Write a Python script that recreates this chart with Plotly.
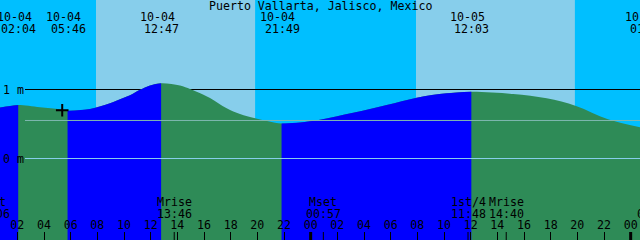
import plotly.graph_objects as go

# ---------------- data ----------------
title = "Puerto Vallarta, Jalisco, Mexico"
view_start = "10-04 00:42"
view_end = "10-06 00:42"
y_range = [-1.181, 2.297]          # metres

# tide curve samples
tide_times = ["10-04 00:42", "10-04 01:27", "10-04 02:04", "10-04 03:42", "10-04 05:12",
              "10-04 05:46", "10-04 07:27", "10-04 08:57", "10-04 09:42", "10-04 10:27",
              "10-04 11:12", "10-04 11:57", "10-04 12:47", "10-04 14:12",
              "10-04 14:57", "10-04 15:27", "10-04 16:27", "10-04 17:42", "10-04 18:42",
              "10-04 19:50",
              "10-04 21:49", "10-04 23:12", "10-05 00:42", "10-05 03:11", "10-05 05:42",
              "10-05 07:57", "10-05 10:12", "10-05 12:03", "10-05 15:11", "10-05 17:42",
              "10-05 19:54", "10-05 22:18", "10-06 00:42"]
tide_m = [0.739, 0.761, 0.775, 0.742, 0.713,
          0.693, 0.717, 0.800, 0.858, 0.915,
          0.995, 1.058, 1.090, 1.058,
          1.008, 0.968, 0.877, 0.728, 0.645,
          0.583,
          0.507, 0.522, 0.562, 0.662, 0.775,
          0.881, 0.945, 0.968, 0.935, 0.872,
          0.761, 0.568, 0.452]

# high / low tide events (labels along the top)
tide_event_dates = ["10-04", "10-04", "10-04", "10-04", "10-05", "10-06"]
tide_event_times = ["02:04", "05:46", "12:47", "21:49", "12:03", "01:13"]

# sun
sunrise = ["10-04 07:54", "10-05 07:54"]
sunset = ["10-04 19:50", "10-05 19:49"]

# moon events (labels along the bottom)
moon_labels = ["Mset", "Mrise", "Mset", "1st/4", "Mrise", "Mset"]
moon_dates = ["10-04", "10-04", "10-05", "10-05", "10-05", "10-06"]
moon_times = ["00:06", "13:46", "00:57", "11:48", "14:40", "01:48"]

# hour ticks
tick_times = ["10-04 02:00", "10-04 04:00", "10-04 06:00", "10-04 08:00", "10-04 10:00",
              "10-04 12:00", "10-04 14:00", "10-04 16:00", "10-04 18:00", "10-04 20:00",
              "10-04 22:00", "10-05 00:00", "10-05 02:00", "10-05 04:00", "10-05 06:00",
              "10-05 08:00", "10-05 10:00", "10-05 12:00", "10-05 14:00", "10-05 16:00",
              "10-05 18:00", "10-05 20:00", "10-05 22:00", "10-06 00:00"]
tick_labels = ["02", "04", "06", "08", "10", "12", "14", "16", "18", "20", "22", "00",
               "02", "04", "06", "08", "10", "12", "14", "16", "18", "20", "22", "00"]
midnights = ["10-05 00:00", "10-06 00:00"]

depth_lines = [1.0]          # black depth line
datum_level = 0.0
mean_level = 0.551
now_time = "10-04 05:22"
now_level = 0.700

# ---------------- helpers ----------------
def hrs(s):
    d, hm = s.split(" ")
    return (int(d[3:]) - 4) * 24 + int(hm[:2]) + int(hm[3:]) / 60.0

x0, x1 = hrs(view_start), hrs(view_end)
X = [hrs(t) for t in tide_times]

RISE = "#0000FF"
FALL = "#2E8B57"
DAY = "#87CEEB"
NIGHT = "#00BFFF"
FONT = dict(family="DejaVu Sans Mono", size=11.6, color="black")

fig = go.Figure()
low = y_range[0] - 1

def area(xs, ys, color):
    fig.add_trace(go.Scatter(x=[xs[0], xs[-1]], y=[low, low], mode="lines",
                             line=dict(width=0), hoverinfo="skip", showlegend=False))
    fig.add_trace(go.Scatter(x=xs, y=ys, mode="lines", fill="tonexty", fillcolor=color,
                             line=dict(width=0, color=color, shape="spline", smoothing=1.0),
                             hoverinfo="skip", showlegend=False))

# falling colour under the whole curve, rising segments on top
area(X, tide_m, FALL)
bounds = [x0] + [hrs(d + " " + t) for d, t in zip(tide_event_dates, tide_event_times)
                 if x0 < hrs(d + " " + t) < x1] + [x1]
for a, b in zip(bounds[:-1], bounds[1:]):
    idx = [i for i, x in enumerate(X) if a - 1e-6 <= x <= b + 1e-6]
    xs = [X[i] for i in idx]
    ys = [tide_m[i] for i in idx]
    if ys[-1] > ys[0]:
        area(xs, ys, RISE)

# now marker
fig.add_trace(go.Scatter(x=[hrs(now_time)], y=[now_level], mode="markers",
                         marker=dict(symbol="cross-thin", size=9,
                                     line=dict(width=2, color="black")),
                         hoverinfo="skip", showlegend=False))

shapes = []
for r, s in zip(sunrise, sunset):
    shapes.append(dict(type="rect", xref="x", yref="paper", x0=hrs(r), x1=hrs(s),
                       y0=0, y1=1, fillcolor=DAY, line=dict(width=0), layer="below"))
for lv in depth_lines:
    shapes.append(dict(type="line", xref="paper", yref="y", x0=25 / 640, x1=1,
                       y0=lv, y1=lv, line=dict(color="black", width=1), layer="below"))
shapes.append(dict(type="line", xref="paper", yref="y", x0=25 / 640, x1=1,
                   y0=mean_level, y1=mean_level, line=dict(color="#7FB8B0", width=1)))
shapes.append(dict(type="line", xref="paper", yref="y", x0=25 / 640, x1=1,
                   y0=datum_level, y1=datum_level, line=dict(color="#87CEEB", width=1)))
for m in midnights:
    shapes.append(dict(type="line", xref="x", yref="paper", x0=hrs(m), x1=hrs(m),
                       y0=0, y1=8 / 240, line=dict(color="black", width=3)))
for d, t in zip(moon_dates, moon_times):
    h = hrs(d + " " + t)
    if x0 < h < x1:
        shapes.append(dict(type="line", xref="x", yref="paper", x0=h, x1=h,
                           y0=0, y1=8 / 240, line=dict(color="black", width=1)))

annotations = [dict(text=title, xref="paper", yref="paper", x=0.5, y=1 - 6 / 240,
                    yanchor="middle", showarrow=False, font=FONT)]

def label(h, ypix, text, shift=0):
    if x0 <= h <= x1:
        ref, xv = "x", h
    else:
        ref, xv = "paper", (h - x0) / (x1 - x0)
    annotations.append(dict(text=text, xref=ref, yref="paper", x=xv, y=1 - ypix / 240,
                            xanchor="center", yanchor="middle", xshift=shift,
                            showarrow=False, font=FONT))

for d, t in zip(tide_event_dates, tide_event_times):
    h = hrs(d + " " + t)
    label(h, 17, d, -4)
    label(h, 29, t, 0.5)
for n, d, t in zip(moon_labels, moon_dates, moon_times):
    h = hrs(d + " " + t)
    label(h, 202, n)
    label(h, 214, t)

fig.update_layout(
    width=640, height=240, autosize=False,
    margin=dict(l=0, r=0, t=0, b=0, pad=0),
    plot_bgcolor=NIGHT, paper_bgcolor=NIGHT,
    shapes=shapes, annotations=annotations, showlegend=False,
    xaxis=dict(range=[x0, x1], showgrid=False, zeroline=False, showline=False,
               ticks="inside", ticklen=8, tickwidth=1, tickcolor="black",
               tickvals=[hrs(t) for t in tick_times], ticktext=tick_labels,
               ticklabelposition="inside", ticklabeloverflow="allow",
               tickfont=FONT, fixedrange=True),
    yaxis=dict(range=y_range, showgrid=False, zeroline=False, showline=False,
               ticks="", tickvals=[0, 1], ticktext=["0 m", "1 m"],
               ticklabelposition="inside", ticklabeloverflow="allow",
               tickfont=FONT, fixedrange=True),
)

fig.write_html("out.html")
